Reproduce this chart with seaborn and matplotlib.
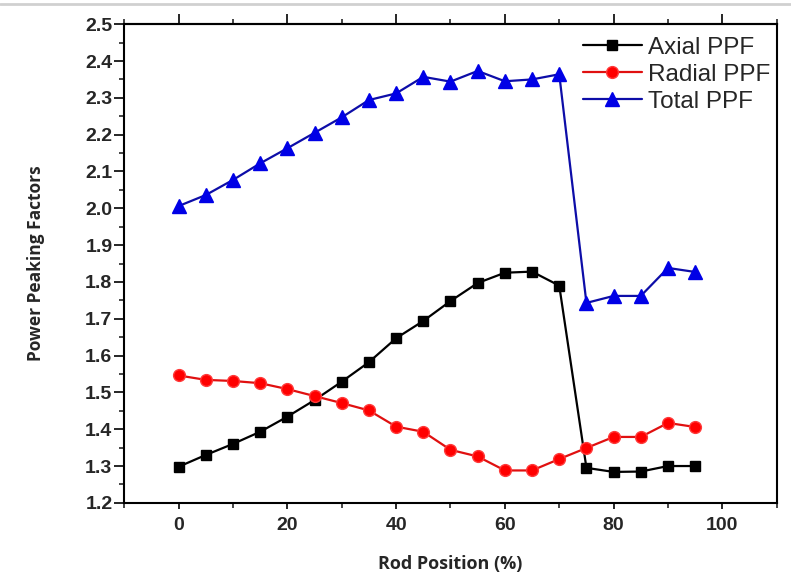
import matplotlib
matplotlib.use("Agg")
import matplotlib.pyplot as plt
from matplotlib.ticker import MultipleLocator
from matplotlib.lines import Line2D
import seaborn as sns
import pandas as pd

rod_position = [0, 5, 10, 15, 20, 25, 30, 35, 40, 45, 50, 55, 60, 65, 70, 75, 80, 85, 90, 95]
axial_ppf = [1.298, 1.330, 1.360, 1.393, 1.434, 1.479, 1.529, 1.582, 1.647, 1.694, 1.748,
             1.797, 1.825, 1.828, 1.790, 1.295, 1.284, 1.285, 1.300, 1.300]
radial_ppf = [1.546, 1.534, 1.531, 1.525, 1.509, 1.490, 1.471, 1.451, 1.407, 1.393, 1.344,
              1.326, 1.288, 1.288, 1.319, 1.349, 1.379, 1.379, 1.417, 1.406]
total_ppf = [2.006, 2.036, 2.077, 2.122, 2.163, 2.205, 2.247, 2.294, 2.312, 2.357, 2.344,
             2.373, 2.345, 2.350, 2.364, 1.743, 1.762, 1.762, 1.838, 1.827]

series_names = ["Axial PPF", "Radial PPF", "Total PPF"]
series_values = [axial_ppf, radial_ppf, total_ppf]

sns.set_theme(style="ticks")
plt.rcParams['font.family'] = ['Liberation Sans', 'DejaVu Sans']

fig = plt.figure(figsize=(7.91, 5.76), dpi=100)
ax = fig.add_axes([0.157, 0.127, 0.825, 0.831])

styles = [
    dict(color="#000000", marker="s", markersize=7.5, mfc="#000000", mec="#000000"),
    dict(color="#e01010", marker="o", markersize=8.5, mfc="#ff0000", mec="#ff3a3a"),
    dict(color="#0d0da8", marker="^", markersize=9.5, mfc="#0000e6", mec="#0000e6"),
]

for name, vals, st in zip(series_names, series_values, styles):
    df = pd.DataFrame({"x": rod_position, "y": vals})
    sns.lineplot(data=df, x="x", y="y", ax=ax, label=name, color=st["color"],
                 marker=st["marker"], markersize=st["markersize"],
                 markerfacecolor=st["mfc"], markeredgecolor=st["mec"],
                 markeredgewidth=1.0, linewidth=1.6)

ax.set_xlim(-10, 110)
ax.set_ylim(1.2, 2.5)
ax.xaxis.set_major_locator(MultipleLocator(20))
ax.xaxis.set_minor_locator(MultipleLocator(10))
ax.yaxis.set_major_locator(MultipleLocator(0.1))
ax.yaxis.set_minor_locator(MultipleLocator(0.05))
ax.yaxis.set_major_formatter(matplotlib.ticker.FormatStrFormatter('%.1f'))

for sp in ax.spines.values():
    sp.set_linewidth(1.5)
    sp.set_color("black")
    sp.set_visible(True)

ax.tick_params(axis='y', which='major', direction='out', length=7, width=1.4, pad=1.5,
               labelsize=14, left=True, right=False)
ax.tick_params(axis='y', which='minor', direction='out', length=3.5, width=1.2, left=True, right=False)
ax.tick_params(axis='x', which='major', direction='out', length=4.5, width=1.4, pad=6,
               labelsize=14, bottom=True, top=False)
ax.tick_params(axis='x', which='minor', direction='out', length=3.5, width=1.2, bottom=True, top=False)
for lab in ax.get_xticklabels() + ax.get_yticklabels():
    lab.set_fontweight('bold')

sec = ax.secondary_xaxis('top')
sec.xaxis.set_major_locator(MultipleLocator(20))
sec.xaxis.set_minor_locator(MultipleLocator(10))
sec.tick_params(which='major', direction='out', length=7, width=1.4, labeltop=False)
sec.tick_params(which='minor', direction='out', length=3.5, width=1.2)
sec.spines['top'].set_linewidth(1.5)

ax.set_xlabel("Rod Position (%)", fontsize=13, fontweight='bold',
              family=['Open Sans', 'DejaVu Sans'], labelpad=15)
ax.set_ylabel("Power Peaking Factors", fontsize=12.5, fontweight='bold',
              family=['Open Sans', 'DejaVu Sans'], labelpad=29)

leg = ax.legend(loc='upper right', frameon=False, fontsize=17.5, handlelength=2.4,
                handletextpad=0.25, labelspacing=0.2, borderaxespad=0.2,
                bbox_to_anchor=(1.012, 1.004))

fig.add_artist(Line2D([0, 1], [1 - 4 / 576, 1 - 4 / 576], transform=fig.transFigure,
                      color="#d0d0d0", linewidth=2))

fig.savefig("out.png", dpi=100, facecolor="white")
